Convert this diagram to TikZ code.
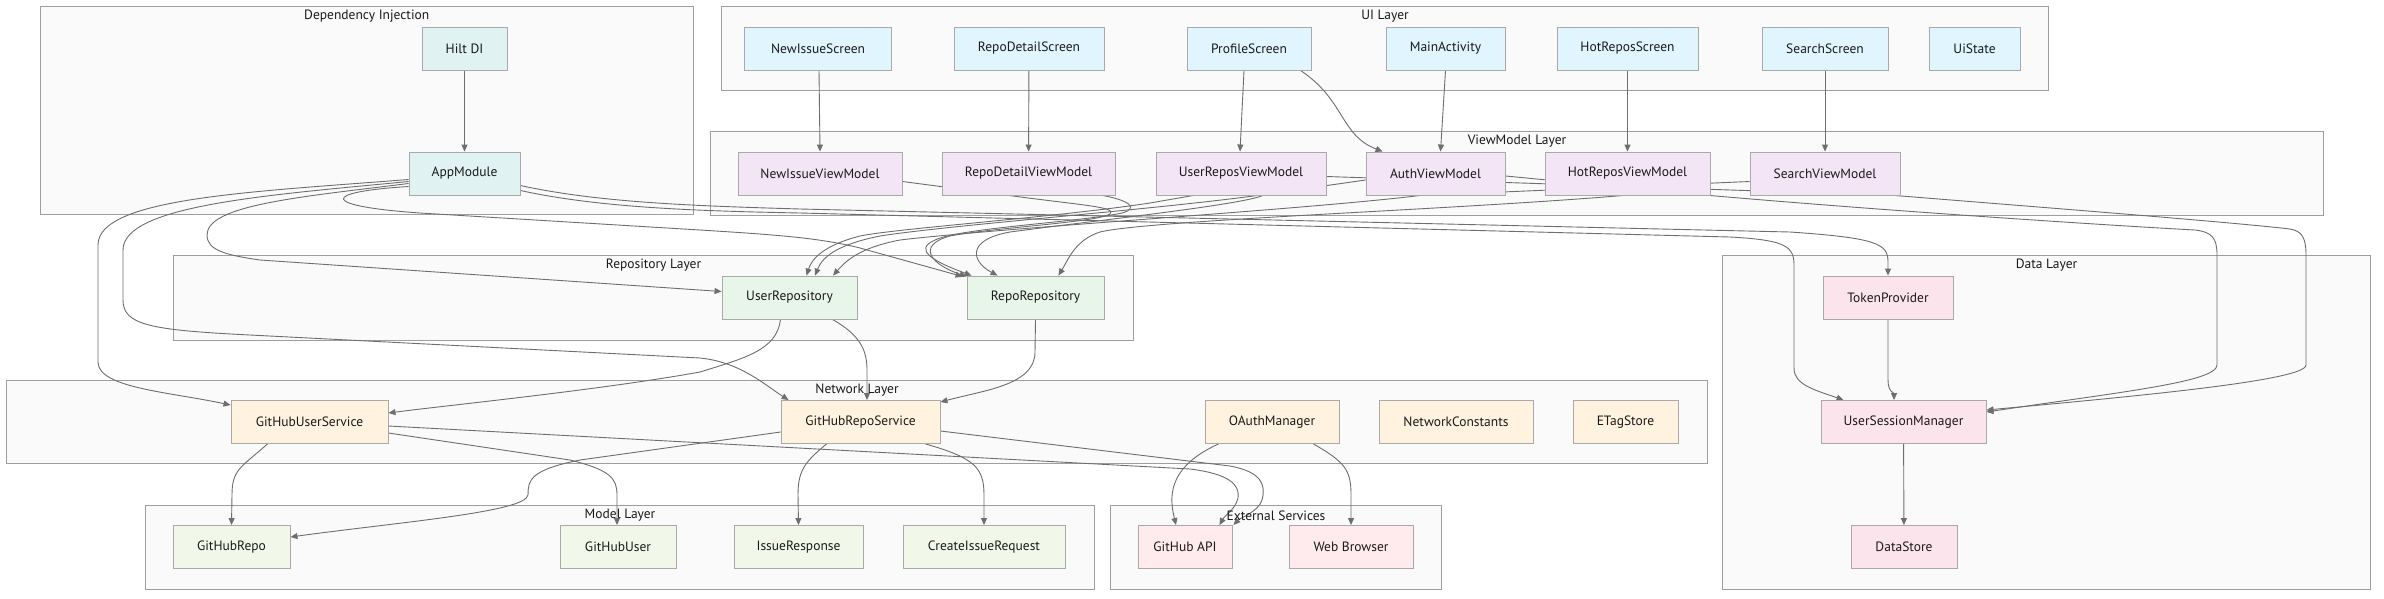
\documentclass[tikz,border=0pt]{standalone}
\usepackage{fontspec}
\setmainfont{PT Sans}
\usetikzlibrary{arrows.meta,calc}
\definecolor{clfill}{HTML}{FAFAFA}
\definecolor{clstroke}{HTML}{9E9E9E}
\definecolor{ndstroke}{HTML}{A9A9A9}
\definecolor{edgec}{HTML}{6E6E6E}
\definecolor{txtc}{HTML}{1A1A1A}
\definecolor{difill}{HTML}{E0F2F1}
\definecolor{uifill}{HTML}{E1F5FE}
\definecolor{vmfill}{HTML}{F3E5F5}
\definecolor{repfill}{HTML}{E8F5E9}
\definecolor{netfill}{HTML}{FFF3E0}
\definecolor{modfill}{HTML}{F1F8E9}
\definecolor{extfill}{HTML}{FFEBEE}
\definecolor{datfill}{HTML}{FCE4EC}
\pgfdeclarelayer{bg}
\pgfdeclarelayer{edges}
\pgfsetlayers{bg,edges,main}
\begin{document}
\begin{tikzpicture}[x=1pt,y=-1pt,
  cluster/.style={draw=clstroke,fill=clfill,line width=1pt,anchor=north west,inner sep=0pt},
  ttl/.style={font=\fontsize{13.5}{15}\selectfont,text=txtc,inner sep=0pt},
  nd/.style={draw=ndstroke,line width=0.9pt,minimum height=43pt,inner sep=0pt,font=\fontsize{13.5}{15}\selectfont,text=txtc},
  arr/.style={draw=edgec,line width=0.9pt,-{Triangle[length=7pt,width=6pt]}}]
\useasboundingbox (0,0) rectangle (2384,598);

% nodes
\node[nd,fill=difill,minimum width=85pt] (hilt) at (464.5,48.5) {Hilt DI};
\node[nd,fill=difill,minimum width=111pt] (appm) at (464.5,173.5) {AppModule};

\node[nd,fill=uifill,minimum width=147pt] (nis) at (818,48.5) {NewIssueScreen};
\node[nd,fill=uifill,minimum width=150pt] (rds) at (1029,48.5) {RepoDetailScreen};
\node[nd,fill=uifill,minimum width=124pt] (ps) at (1249,48.5) {ProfileScreen};
\node[nd,fill=uifill,minimum width=119pt] (ma) at (1445.5,48.5) {MainActivity};
\node[nd,fill=uifill,minimum width=141pt] (hrs) at (1627.5,48.5) {HotReposScreen};
\node[nd,fill=uifill,minimum width=126pt] (ss) at (1825,48.5) {SearchScreen};
\node[nd,fill=uifill,minimum width=91pt] (uis) at (1974.5,48.5) {UiState};

\node[nd,fill=vmfill,minimum width=164pt] (nivm) at (820,173.5) {NewIssueViewModel};
\node[nd,fill=vmfill,minimum width=173pt] (rdvm) at (1028.5,173.5) {RepoDetailViewModel};
\node[nd,fill=vmfill,minimum width=170pt] (urvm) at (1241,173.5) {UserReposViewModel};
\node[nd,fill=vmfill,minimum width=139pt] (avm) at (1435.5,173.5) {AuthViewModel};
\node[nd,fill=vmfill,minimum width=165pt] (hrvm) at (1627.5,173.5) {HotReposViewModel};
\node[nd,fill=vmfill,minimum width=150pt] (svm) at (1825,173.5) {SearchViewModel};

\node[nd,fill=repfill,minimum width=135pt] (urep) at (789.5,297.5) {UserRepository};
\node[nd,fill=repfill,minimum width=137pt] (rrep) at (1035.5,297.5) {RepoRepository};

\node[nd,fill=netfill,minimum width=157pt] (gus) at (309.5,422) {GitHubUserService};
\node[nd,fill=netfill,minimum width=159pt] (grs) at (860.5,422) {GitHubRepoService};
\node[nd,fill=netfill,minimum width=134pt] (oauth) at (1272,422) {OAuthManager};
\node[nd,fill=netfill,minimum width=154pt] (nc) at (1456,422) {NetworkConstants};
\node[nd,fill=netfill,minimum width=105pt] (etag) at (1625.5,422) {ETagStore};

\node[nd,fill=modfill,minimum width=117pt] (grepo) at (231.5,547) {GitHubRepo};
\node[nd,fill=modfill,minimum width=116pt] (guser) at (618,547) {GitHubUser};
\node[nd,fill=modfill,minimum width=129pt] (ir) at (798.5,547) {IssueResponse};
\node[nd,fill=modfill,minimum width=162pt] (cir) at (984,547) {CreateIssueRequest};

\node[nd,fill=extfill,minimum width=94pt] (gapi) at (1185,547) {GitHub API};
\node[nd,fill=extfill,minimum width=124pt] (wb) at (1351,547) {Web Browser};

\node[nd,fill=datfill,minimum width=130pt] (tp) at (1888,297.5) {TokenProvider};
\node[nd,fill=datfill,minimum width=165pt] (usm) at (1903.5,422) {UserSessionManager};
\node[nd,fill=datfill,minimum width=106pt] (ds) at (1904,547) {DataStore};

% clusters
\begin{pgfonlayer}{bg}
\fill[white] (0,0) rectangle (2384,598);
\node[cluster,minimum width=653.5pt,minimum height=208pt] (cdi) at (39.5,6) {};
\node[cluster,minimum width=1327pt,minimum height=84pt] (cui) at (721,6) {};
\node[cluster,minimum width=1613pt,minimum height=84pt] (cvm) at (710,131) {};
\node[cluster,minimum width=960pt,minimum height=85pt] (crep) at (173,255) {};
\node[cluster,minimum width=1701pt,minimum height=83pt] (cnet) at (6,380) {};
\node[cluster,minimum width=949pt,minimum height=84pt] (cmod) at (145,505) {};
\node[cluster,minimum width=331pt,minimum height=84pt] (cext) at (1110,505) {};
\node[cluster,minimum width=648pt,minimum height=334pt] (cdat) at (1722,255) {};
\end{pgfonlayer}
\node[ttl] (tdi) at ($(cdi.north)+(0,10.5)$) {Dependency Injection};
\node[ttl] (tui) at ($(cui.north)+(0,10.5)$) {UI Layer};
\node[ttl] (tvm) at ($(cvm.north)+(0,10.5)$) {ViewModel Layer};
\node[ttl] (trep) at ($(crep.north)+(0,10.5)$) {Repository Layer};
\node[ttl] (tnet) at ($(cnet.north)+(0,10.5)$) {Network Layer};
\node[ttl] (tmod) at ($(cmod.north)+(0,10.5)$) {Model Layer};
\node[ttl] (text) at ($(cext.north)+(0,10.5)$) {External Services};
\node[ttl] (tdat) at ($(cdat.north)+(0,10.5)$) {Data Layer};

\begin{pgfonlayer}{edges}
% DI and UI -> VM
\draw[arr] (hilt) -- (appm);
\draw[arr] ($(nis.south)+(1,0)$) -- ($(nivm.north)+(0,0)$);
\draw[arr] (rds) -- (rdvm);
\draw[arr] ($(ps.south)+(-5,0)$) -- ($(urvm.north)+(-1,0)$);
\draw[arr] ($(ps.south east)+(-11,0)$) .. controls (1345,100) and (1340,135) .. ($(avm.north west)+(17,0)$);
\draw[arr] ($(ma.south)+(0,0)$) -- ($(avm.north)+(5,0)$);
\draw[arr] (hrs) -- (hrvm);
\draw[arr] (ss) -- (svm);

% AppModule
\draw[arr] ($(appm.west)+(0,6)$) .. controls (250,192) and (98,198) .. (98,245) -- (98,362) .. controls (98,388) and (170,392) .. ($(gus.north west)+(0,5)$);
\draw[arr] ($(appm.west)+(0,8)$) .. controls (270,195) and (123,205) .. (123,250) -- (123,300) .. controls (123,325) and (150,330) .. (250,335) -- (700,358) .. controls (740,362) and (765,385) .. ($(grs.north west)+(8,0)$);
\draw[arr] ($(appm.west)+(0,10)$) .. controls (300,197) and (207,205) .. (207,235) .. controls (207,250) and (225,255) .. (260,260) -- ($(urep.west)+(0,-6)$);
\draw[arr] ($(appm.west)+(0,13)$) .. controls (320,192) and (320,206) .. (420,213) -- (700,230) .. controls (780,235) and (820,238) .. (860,248) -- ($(rrep.north west)+(-4,1)$);
\draw[arr] ($(appm.east)+(0,12)$) .. controls (600,203) and (700,206) .. (800,209) -- (1790,232) .. controls (1878,238) and (1888,244) .. (1888,262) -- (tp.north);
\draw[arr] ($(appm.east)+(0,17)$) .. controls (600,208) and (700,211) .. (800,213) -- (1730,237) .. controls (1785,240) and (1794,246) .. (1794,265) -- (1794,368) .. controls (1794,385) and (1815,390) .. ($(usm.north west)+(23,0)$);

% VM -> repos/data
\draw[arr] ($(nivm.east)+(0,8)$) -- (1013,196) .. controls (1080,205) and (1118,207) .. (1110,214) .. controls (1100,222) and (990,228) .. (950,236) .. controls (920,244) and (925,262) .. ($(rrep.north west)+(0,1)$);
\draw[arr] ($(rdvm.south east)+(-13,0)$) .. controls (1128,200) and (1140,208) .. (1122,213) .. controls (1080,222) and (960,228) .. (935,240) .. controls (912,250) and (935,262) .. ($(rrep.north west)+(5,0)$);
\draw[arr] ($(urvm.south)+(22,0)$) .. controls (1240,205) and (1100,220) .. (1010,232) .. controls (965,240) and (972,262) .. ($(rrep.north west)+(31,0)$);
\draw[arr] ($(hrvm.south)+(-4,0)$) .. controls (1450,210) and (1150,220) .. (1100,232) .. controls (1075,240) and (1068,260) .. ($(rrep.north east)+(-46,0)$);
\draw[arr] ($(urvm.south west)+(38,0)$) -- (1150,203) .. controls (1050,218) and (900,228) .. (860,236) .. controls (825,245) and (812,258) .. ($(urep.north)+(17,0)$);
\draw[arr] ($(avm.west)+(0,6.5)$) -- (1257,195.5) .. controls (1150,210) and (950,225) .. (880,236) .. controls (835,245) and (822,258) .. ($(urep.north)+(25.5,0)$);
\draw[arr] ($(svm.west)+(0,8)$) -- (1420,195.5) .. controls (1300,210) and (1000,228) .. (900,240) .. controls (858,248) and (845,262) .. ($(urep.north)+(43.5,0)$);
\draw[arr] ($(avm.east)+(0,2.5)$) -- (1710,195.5) .. controls (1900,212) and (2120,226) .. (2195,230) .. controls (2212,232) and (2217,238) .. (2217,255) -- (2217,365) .. controls (2217,382) and (2120,392) .. ($(usm.east)+(0,-10)$);
\draw[arr] ($(urvm.east)+(0,3)$) -- (1895,195.5) .. controls (2050,208) and (2230,222) .. (2290,229) .. controls (2302,231) and (2306,238) .. (2306,255) -- (2306,365) .. controls (2306,380) and (2150,395) .. ($(usm.east)+(0,-12)$);

% repos -> network
\draw[arr] ($(urep.south)+(-9,0)$) .. controls (777,350) and (745,358) .. (700,372) .. controls (600,390) and (450,405) .. ($(gus.east)+(0,-9)$);
\draw[arr] ($(urep.south east)+(-25,0)$) .. controls (860,335) and (867,350) .. (867,370) -- ($(grs.north)+(6.5,0)$);
\draw[arr] (rrep.south) -- (1035,352) .. controls (1035,385) and (985,390) .. ($(grs.north east)+(0,2)$);

% network -> model / external
\draw[arr] ($(gus.south)+(-42,0)$) .. controls (240,468) and (232,470) .. (232,495) -- (grepo.north);
\draw[arr] ($(gus.east)+(0,11)$) -- (570,460) .. controls (610,470) and (617,478) .. (617,495) -- ($(guser.north)+(-1,0)$);
\draw[arr] ($(gus.east)+(0,4)$) -- (1190,469) .. controls (1230,474) and (1240,485) .. (1238,498) .. controls (1235,510) and (1225,515) .. ($(gapi.north east)+(-13,0)$);
\draw[arr] ($(grs.east)+(0,9)$) -- (1230,466) .. controls (1262,472) and (1266,485) .. (1262,500) .. controls (1258,512) and (1240,518) .. ($(gapi.north east)+(1,0)$);
\draw[arr] ($(grs.west)+(0,10)$) -- (580,460) .. controls (530,470) and (528,480) .. (528,495) .. controls (526,512) and (400,522) .. ($(grepo.east)+(0,-10)$);
\draw[arr] ($(grs.south)+(-34,0)$) .. controls (805,462) and (798,470) .. (798,495) -- (ir.north);
\draw[arr] ($(grs.south)+(65,0)$) .. controls (975,458) and (984,468) .. (984,495) -- (cir.north);
\draw[arr] ($(oauth.south west)+(14,0)$) .. controls (1165,468) and (1170,500) .. ($(gapi.north)+(-9,0)$);
\draw[arr] ($(oauth.south east)+(-26,0)$) .. controls (1345,462) and (1351,470) .. (1351,495) -- (wb.north);

% data
\draw[arr] (tp.south) -- (1888,380) .. controls (1888,392) and (1894,393) .. ($(usm.north)+(-9.5,0)$);
\draw[arr] (usm) -- (ds);
\end{pgfonlayer}
\end{tikzpicture}
\end{document}
